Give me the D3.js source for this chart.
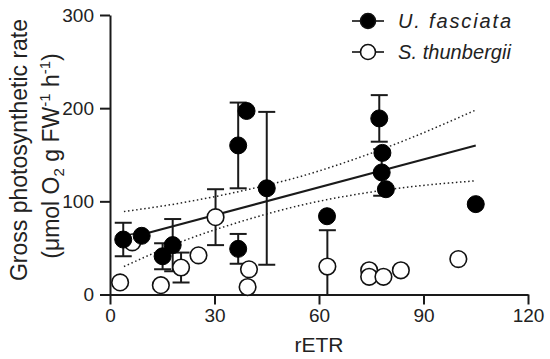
<!DOCTYPE html>
<html>
<head>
<meta charset="utf-8">
<script src="https://cdn.jsdelivr.net/npm/d3@7"></script>
<style>
  body { margin: 0; background: #fff; }
  svg { font-family: "Liberation Sans", Arial, sans-serif; }
  .axis path, .axis line { stroke: #1a1a1a; stroke-width: 2px; }
  .axis text { font-size: 19px; fill: #222; }
</style>
</head>
<body>
<svg id="chart" width="550" height="359"></svg>
<script>
// U. fasciata (filled) - mean and SD
const ufX = [3.8, 9.1, 15.1, 18, 36.8, 36.8, 39.2, 45, 62.3, 77.3, 78.2, 78, 79.2, 105];
const ufY = [59, 63, 41, 53, 49, 160, 197, 114, 84, 189, 152, 131, 113, 97];
const ufSD = [18, 0, 14, 28, 16, 46, 0, 82, 0, 25, 0, 25, 0, 0];

// S. thunbergii (open)
const stX = [2.9, 6.4, 14.6, 20.4, 25.4, 30.3, 39.9, 39.5, 62.4, 74.4, 74.4, 78.5, 83.5, 100];
const stY = [13, 56, 10, 29, 42, 83, 27, 8, 30, 26, 19, 19, 26, 38];
const stSD = [0, 0, 0, 16, 0, 30, 0, 0, 39, 0, 0, 0, 0, 0];

// regression line and 95% band (U. fasciata)
const regX = [3.8, 105];
const regY = [59, 160];
const bandX = [4, 20, 40, 55, 70, 85, 105];
const bandUpper = [89, 98, 113, 127, 145, 166, 198];
const bandLower = [30, 56, 81, 96, 107, 115, 122];

const xTicks = [0, 30, 60, 90, 120];
const yTicks = [0, 100, 200, 300];
const seriesNames = ["U. fasciata", "S. thunbergii"];

const svg = d3.select("#chart");
const margin = { top: 15, right: 22, bottom: 64.5, left: 110 };
const width = +svg.attr("width") - margin.left - margin.right;
const height = +svg.attr("height") - margin.top - margin.bottom;

const x = d3.scaleLinear().domain([0, 120]).range([0, width]);
const y = d3.scaleLinear().domain([0, 300]).range([height, 0]);

const chart = svg.append("g")
  .attr("transform", `translate(${margin.left},${margin.top})`);

chart.append("clipPath").attr("id", "plot-clip")
  .append("rect")
  .attr("x", 0).attr("y", -20)
  .attr("width", width + 20).attr("height", height + 20);

// Axes
chart.append("g")
  .attr("class", "axis")
  .attr("transform", `translate(0,${height})`)
  .call(d3.axisBottom(x).tickValues(xTicks).tickSize(10).tickPadding(4).tickSizeOuter(0));

chart.append("g")
  .attr("class", "axis")
  .call(d3.axisLeft(y).tickValues(yTicks).tickSize(10).tickPadding(6).tickSizeOuter(0));

// Confidence band (dotted) and fit line
const band = d3.line().x(d => x(d[0])).y(d => y(d[1])).curve(d3.curveMonotoneX);

[bandUpper, bandLower].forEach(vals => {
  chart.append("path")
    .datum(bandX.map((v, i) => [v, vals[i]]))
    .attr("d", band)
    .attr("fill", "none")
    .attr("stroke", "#222")
    .attr("stroke-width", 1.5)
    .attr("stroke-dasharray", "1.5,2.6");
});

chart.append("path")
  .datum(regX.map((v, i) => [v, regY[i]]))
  .attr("d", d3.line().x(d => x(d[0])).y(d => y(d[1])))
  .attr("stroke", "#1a1a1a")
  .attr("stroke-width", 2);

// Error bars
const capHalf = 8.5;
const bars = chart.append("g").attr("clip-path", "url(#plot-clip)");

function drawErrorBars(xs, ys, sds) {
  xs.forEach((xv, i) => {
    if (!sds[i]) return;
    const top = y(ys[i] + sds[i]);
    const bot = y(ys[i] - sds[i]);
    const cx = x(xv);
    bars.append("line")
      .attr("x1", cx).attr("x2", cx).attr("y1", top).attr("y2", bot)
      .attr("stroke", "#1a1a1a").attr("stroke-width", 2);
    [top, bot].forEach(cy => {
      bars.append("line")
        .attr("x1", cx - capHalf).attr("x2", cx + capHalf)
        .attr("y1", cy).attr("y2", cy)
        .attr("stroke", "#1a1a1a").attr("stroke-width", 2);
    });
  });
}
drawErrorBars(stX, stY, stSD);
drawErrorBars(ufX, ufY, ufSD);

// Points: open first, filled on top
chart.selectAll(".st-point")
  .data(stX.map((v, i) => [v, stY[i]]))
  .enter().append("circle")
  .attr("class", "st-point")
  .attr("cx", d => x(d[0]))
  .attr("cy", d => y(d[1]))
  .attr("r", 8.3)
  .attr("fill", "#fff")
  .attr("stroke", "#111")
  .attr("stroke-width", 1.6);

chart.selectAll(".uf-point")
  .data(ufX.map((v, i) => [v, ufY[i]]))
  .enter().append("circle")
  .attr("class", "uf-point")
  .attr("cx", d => x(d[0]))
  .attr("cy", d => y(d[1]))
  .attr("r", 8.5)
  .attr("fill", "#000")
  .attr("stroke", "#000")
  .attr("stroke-width", 1);

// X Axis Label
chart.append("text")
  .attr("x", width / 2)
  .attr("y", height + 57)
  .attr("text-anchor", "middle")
  .style("font-size", "21px")
  .style("fill", "#222")
  .text("rETR");

// Y Axis Label (two lines)
svg.append("text")
  .attr("transform", "translate(27,150) rotate(-90)")
  .attr("text-anchor", "middle")
  .style("font-size", "23px")
  .style("fill", "#222")
  .text("Gross photosynthetic rate");

const yl2 = svg.append("text")
  .attr("transform", "translate(59,156) rotate(-90)")
  .attr("text-anchor", "middle")
  .style("font-size", "23px")
  .style("fill", "#222");
yl2.append("tspan").text("(μmol O");
yl2.append("tspan").attr("dy", 5).style("font-size", "15px").text("2");
yl2.append("tspan").attr("dy", -5).text(" g FW");
yl2.append("tspan").attr("dy", -9).style("font-size", "15px").text("-1");
yl2.append("tspan").attr("dy", 9).text(" h");
yl2.append("tspan").attr("dy", -9).style("font-size", "15px").text("-1");
yl2.append("tspan").attr("dy", 9).text(")");

// Legend
const legend = svg.append("g");
seriesNames.forEach((name, i) => {
  const ly = 21 + i * 31;
  legend.append("line")
    .attr("x1", 352).attr("x2", 384).attr("y1", ly).attr("y2", ly)
    .attr("stroke", "#111").attr("stroke-width", 1.6);
  legend.append("circle")
    .attr("cx", 368).attr("cy", ly).attr("r", 7.5)
    .attr("fill", i === 0 ? "#000" : "#fff")
    .attr("stroke", "#111").attr("stroke-width", 1.6);
  legend.append("text")
    .attr("x", 398).attr("y", ly + 7)
    .attr("textLength", 113)
    .attr("lengthAdjust", "spacing")
    .style("font-size", "20px")
    .style("font-style", "italic")
    .style("fill", "#222")
    .text(name);
});
</script>
</body>
</html>
